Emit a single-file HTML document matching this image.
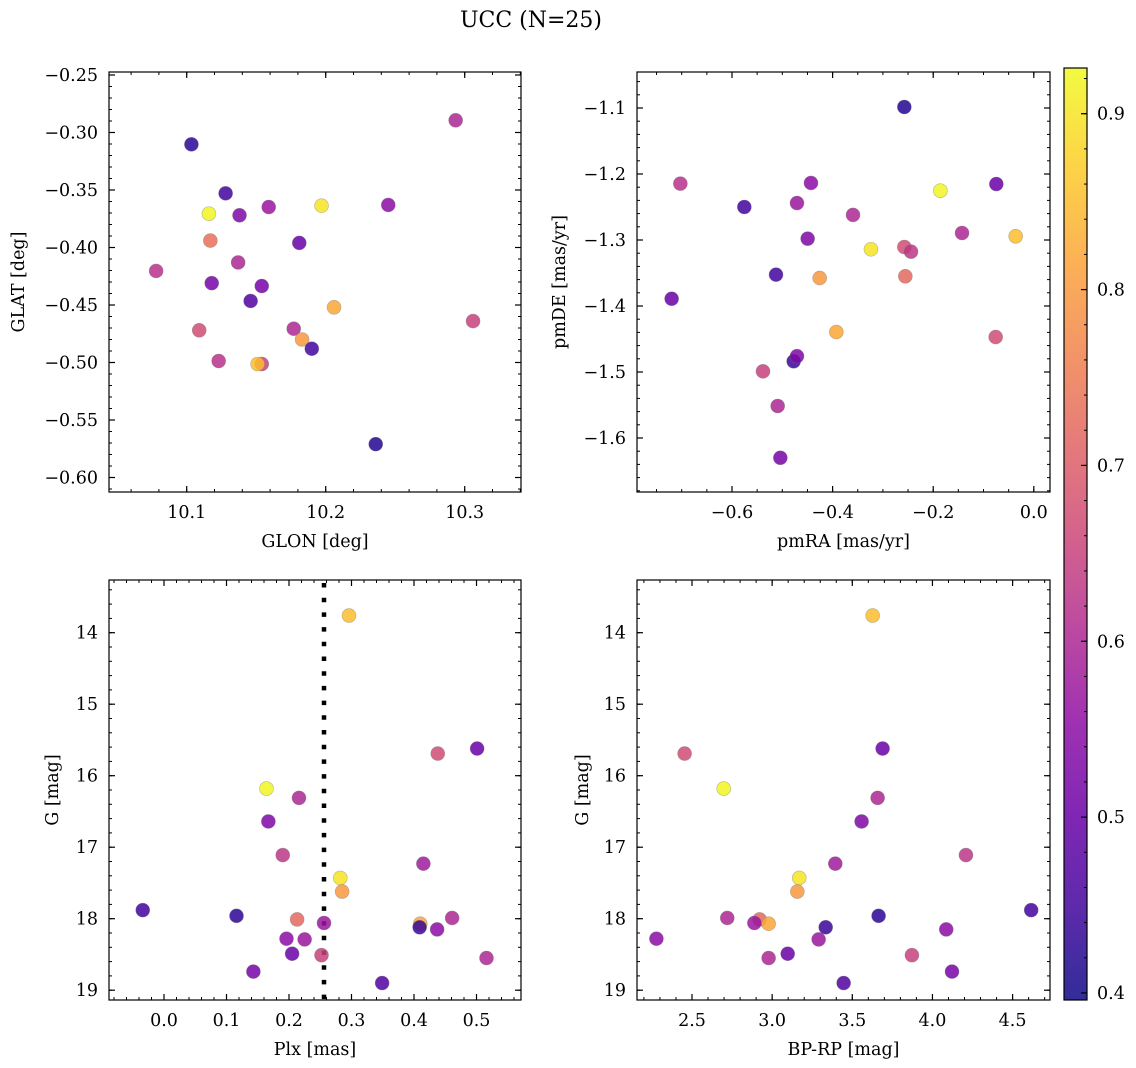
<!DOCTYPE html>
<html><head><meta charset="utf-8"><style>
html,body{margin:0;padding:0;background:#fff}
svg{display:block;font-family:"DejaVu Serif","Liberation Serif",serif}
</style></head><body>
<svg id="fig" width="1136" height="1068" viewBox="0 0 1136 1068" xmlns="http://www.w3.org/2000/svg">
<text x="531" y="27" font-size="22" text-anchor="middle">UCC (N=25)</text>
</svg>
<script>
// Panel 1: GLON vs GLAT
const glon1=[10.1034,10.2935,10.128,10.116,10.138,10.159,10.197,10.245,10.117,10.181,10.078,10.137,10.118,10.154,10.146,10.206,10.306,10.109,10.177,10.183,10.190,10.123,10.154,10.151,10.236];
const glat1=[-0.3103,-0.2894,-0.3529,-0.3706,-0.372,-0.3648,-0.3636,-0.363,-0.394,-0.396,-0.4204,-0.413,-0.431,-0.4335,-0.4465,-0.452,-0.464,-0.472,-0.4706,-0.480,-0.488,-0.4987,-0.5013,-0.5013,-0.571];
const prob1=[0.43,0.6,0.45,0.92,0.53,0.57,0.9,0.55,0.73,0.5,0.62,0.6,0.52,0.52,0.47,0.82,0.65,0.67,0.6,0.8,0.45,0.62,0.65,0.85,0.42];
// Panel 2: pmRA vs pmDE
const pmra2=[-0.2574,-0.7027,-0.443,-0.1858,-0.0745,-0.5755,-0.4708,-0.3594,-0.1427,-0.036,-0.4496,-0.3237,-0.2574,-0.2441,-0.5125,-0.4257,-0.2554,-0.72,-0.3926,-0.0758,-0.4774,-0.4708,-0.5384,-0.5092,-0.5039];
const pmde2=[-1.0985,-1.2146,-1.2136,-1.2253,-1.2152,-1.25,-1.244,-1.262,-1.2894,-1.2944,-1.298,-1.314,-1.3106,-1.3177,-1.3525,-1.3576,-1.355,-1.389,-1.4394,-1.447,-1.4838,-1.476,-1.499,-1.5515,-1.630];
const prob2=[0.42,0.62,0.55,0.92,0.5,0.45,0.57,0.6,0.6,0.85,0.53,0.9,0.67,0.63,0.45,0.8,0.72,0.5,0.82,0.67,0.44,0.53,0.65,0.6,0.52];
// Panels 3 & 4: Plx, BP-RP vs G
const plx34=[0.296,0.501,0.438,0.164,0.216,0.167,0.190,0.415,0.282,0.285,-0.034,0.116,0.213,0.256,0.461,0.410,0.409,0.437,0.196,0.225,0.205,0.252,0.516,0.143,0.349];
const bprp34=[3.627,3.689,2.454,2.698,3.658,3.558,4.209,3.394,3.169,3.157,4.616,3.664,2.922,2.889,2.720,2.978,3.334,4.086,2.278,3.29,3.097,3.872,2.978,4.122,3.446];
const gmag34=[13.76,15.62,15.69,16.18,16.31,16.64,17.11,17.23,17.43,17.62,17.88,17.96,18.01,18.06,17.99,18.07,18.12,18.15,18.28,18.29,18.49,18.51,18.55,18.74,18.90];
const prob34=[0.85,0.5,0.67,0.92,0.6,0.53,0.63,0.58,0.9,0.8,0.45,0.43,0.72,0.57,0.6,0.82,0.44,0.55,0.55,0.57,0.5,0.65,0.6,0.52,0.47];
const plxLine=0.256;
const cbTicks=[0.4,0.5,0.6,0.7,0.8,0.9];

const NS="http://www.w3.org/2000/svg";
const svg=document.getElementById('fig');
function mk(tag,attrs,parent){const e=document.createElementNS(NS,tag);for(const k in attrs)e.setAttribute(k,attrs[k]);(parent||svg).appendChild(e);return e;}
const stops=[[13,8,135],[65,4,157],[106,0,168],[143,13,164],[177,42,144],[204,71,120],[225,100,98],[242,132,75],[252,166,54],[252,206,37],[240,249,33]];
function plasma(t){t=Math.max(0,Math.min(1,t));const f=t*10,i=Math.min(9,Math.floor(f)),u=f-i;const a=stops[i],b=stops[i+1];return `rgb(${Math.round(a[0]+(b[0]-a[0])*u)},${Math.round(a[1]+(b[1]-a[1])*u)},${Math.round(a[2]+(b[2]-a[2])*u)})`;}
const vmin=0.396,vmax=0.926;
const FS=17.5;
function fmt(v,d){const s=v.toFixed(d);return v<0?'\u2212'+s.slice(1):s;}

function panel(o){
  const g=mk('g',{});
  
  
  const X=v=>o.x0+(v-o.xv0)*o.xs, Y=v=>o.y0+(v-o.yv0)*o.ys;
  for(let k=Math.ceil((o.xmin)/o.xminor-1e-6);k*o.xminor<=o.xmax+1e-9;k++){const px=X(k*o.xminor);if(px<o.L||px>o.R)continue;
    mk('line',{x1:px,x2:px,y1:o.B,y2:o.B-3,stroke:'#000','stroke-width':1},g);mk('line',{x1:px,x2:px,y1:o.T,y2:o.T+3,stroke:'#000','stroke-width':1},g);}
  for(let k=Math.ceil((o.ymin)/o.yminor-1e-6);k*o.yminor<=o.ymax+1e-9;k++){const py=Y(k*o.yminor);if(py<o.T||py>o.B)continue;
    mk('line',{x1:o.L,x2:o.L+3,y1:py,y2:py,stroke:'#000','stroke-width':1},g);mk('line',{x1:o.R,x2:o.R-3,y1:py,y2:py,stroke:'#000','stroke-width':1},g);}
  o.xticks.forEach(v=>{const px=X(v);
    mk('line',{x1:px,x2:px,y1:o.B,y2:o.B-6,stroke:'#000','stroke-width':1.2},g);mk('line',{x1:px,x2:px,y1:o.T,y2:o.T+6,stroke:'#000','stroke-width':1.2},g);
    const t=mk('text',{x:px,y:o.B+26,'font-size':FS,'text-anchor':'middle'},g);t.textContent=fmt(v,o.xd);
    });
  o.yticks.forEach(v=>{const py=Y(v);
    mk('line',{x1:o.L,x2:o.L+6,y1:py,y2:py,stroke:'#000','stroke-width':1.2},g);mk('line',{x1:o.R,x2:o.R-6,y1:py,y2:py,stroke:'#000','stroke-width':1.2},g);
    const t=mk('text',{x:o.L-11,y:py+6,'font-size':FS,'text-anchor':'end'},g);t.textContent=fmt(v,o.yd);
    });
  if(o.vline!==undefined){const l=mk('line',{x1:X(o.vline),x2:X(o.vline),y1:o.T+3,y2:o.B,stroke:'#000','stroke-width':4.5,'stroke-dasharray':'4.5 10.2'},g);
    }
  o.xs_.forEach((xv,i)=>{const c=mk('circle',{cx:X(xv),cy:Y(o.ys_[i]),r:7,fill:plasma((o.c[i]-vmin)/(vmax-vmin)),'fill-opacity':0.85,stroke:'#777','stroke-opacity':0.5,'stroke-width':0.6},g);
    });
  mk('rect',{x:o.L,y:o.T,width:o.R-o.L,height:o.B-o.T,fill:'none',stroke:'#000','stroke-width':1.2},g);
  const xl=mk('text',{x:(o.L+o.R)/2,y:o.B+55,'font-size':FS,'text-anchor':'middle'},g);xl.textContent=o.xlabel;
  
  const yx=o.ylx,yy=(o.T+o.B)/2;
  const yl=mk('text',{x:yx,y:yy,'font-size':FS,'text-anchor':'middle',transform:`rotate(-90 ${yx} ${yy})`},g);yl.textContent=o.ylabel;
  
}
panel({name:'glon-glat-panel',L:109,R:521,T:72,B:492,x0:186.7,xv0:10.1,xs:1390,y0:75,yv0:-0.25,ys:-1150,
  xmin:10.04,xmax:10.34,ymin:-0.62,ymax:-0.24,xminor:0.02,yminor:0.01,xticks:[10.1,10.2,10.3],yticks:[-0.25,-0.3,-0.35,-0.4,-0.45,-0.5,-0.55,-0.6],xd:1,yd:2,
  xs_:glon1,ys_:glat1,c:prob1,xlabel:'GLON [deg]',ylabel:'GLAT [deg]',ylx:24});
panel({name:'pm-panel',L:637,R:1050,T:72,B:492,x0:732,xv0:-0.6,xs:503,y0:108,yv0:-1.1,ys:-660,
  xmin:-0.8,xmax:0.05,ymin:-1.7,ymax:-1.0,xminor:0.05,yminor:0.02,xticks:[-0.6,-0.4,-0.2,0.0],yticks:[-1.1,-1.2,-1.3,-1.4,-1.5,-1.6],xd:1,yd:1,
  xs_:pmra2,ys_:pmde2,c:prob2,xlabel:'pmRA [mas/yr]',ylabel:'pmDE [mas/yr]',ylx:565});
panel({name:'plx-g-panel',L:109,R:521,T:580,B:1000,x0:164,xv0:0,xs:625,y0:632.7,yv0:14,ys:71.5,
  xmin:-0.1,xmax:0.6,ymin:13,ymax:19.2,xminor:0.02,yminor:0.2,xticks:[0,0.1,0.2,0.3,0.4,0.5],yticks:[14,15,16,17,18,19],xd:1,yd:0,vline:plxLine,
  xs_:plx34,ys_:gmag34,c:prob34,xlabel:'Plx [mas]',ylabel:'G [mag]',ylx:58});
panel({name:'bprp-g-panel',L:637,R:1050,T:580,B:1000,x0:692,xv0:2.5,xs:160.3,y0:632.7,yv0:14,ys:71.5,
  xmin:2.1,xmax:4.8,ymin:13,ymax:19.2,xminor:0.1,yminor:0.2,xticks:[2.5,3,3.5,4,4.5],yticks:[14,15,16,17,18,19],xd:1,yd:0,
  xs_:bprp34,ys_:gmag34,c:prob34,xlabel:'BP-RP [mag]',ylabel:'G [mag]',ylx:588});

const cb=mk('g',{});


const defs=mk('defs',{},cb);
const lg=mk('linearGradient',{id:'cbg',x1:0,y1:1,x2:0,y2:0},defs);
for(let i=0;i<=20;i++){mk('stop',{offset:(i/20),'stop-color':plasma(i/20),'stop-opacity':0.85},lg);}
const cT=68,cB=1000,cL=1064,cR=1087;
mk('rect',{x:cL,y:cT,width:cR-cL,height:cB-cT,fill:'url(#cbg)'},cb);
const CY=v=>cB-(v-vmin)/(vmax-vmin)*(cB-cT);
for(let k=20;k<=46;k++){const v=k/50;if(v<vmin||v>vmax)continue;mk('line',{x1:cR,x2:cR-3,y1:CY(v),y2:CY(v),stroke:'#000','stroke-width':1},cb);}
cbTicks.forEach(v=>{mk('line',{x1:cR,x2:cR-6,y1:CY(v),y2:CY(v),stroke:'#000','stroke-width':1.2},cb);
  const t=mk('text',{x:cR+10,y:CY(v)+6,'font-size':FS},cb);t.textContent=v.toFixed(1);
  });
mk('rect',{x:cL,y:cT,width:cR-cL,height:cB-cT,fill:'none',stroke:'#000','stroke-width':1.2},cb);
</script>
</body></html>
